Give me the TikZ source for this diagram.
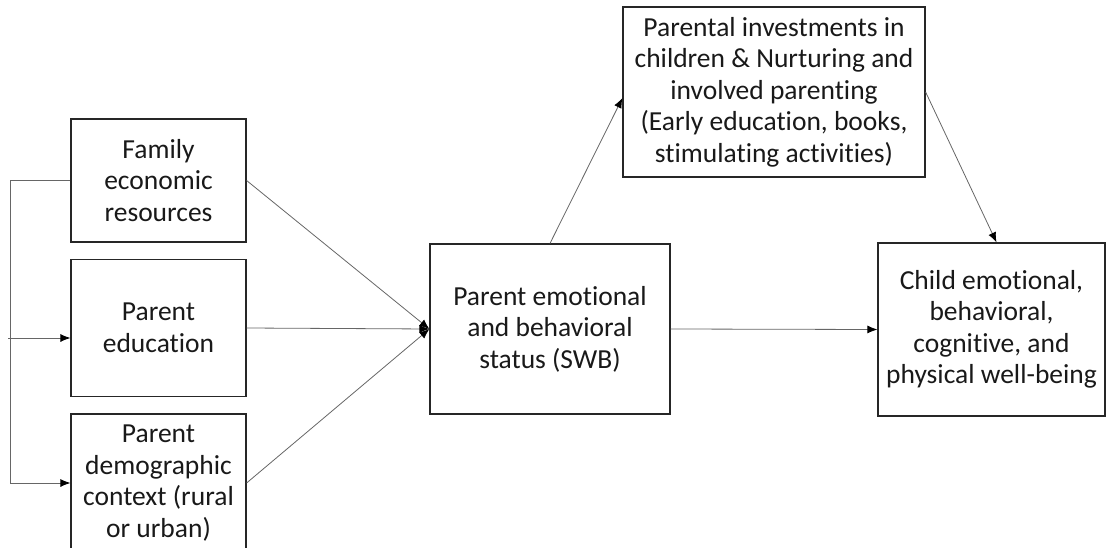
\documentclass[tikz,border=0pt]{standalone}
\usepackage{fontspec}
\setmainfont[Ligatures=NoCommon]{Carlito}
\usetikzlibrary{arrows.meta}
\begin{document}
\begin{tikzpicture}[x=1pt,y=1pt,
  box/.style={draw=black!85, line width=1.2pt, align=center, inner sep=0pt,
    font=\fontsize{27.5}{31.5}\selectfont, text=black!90},
  link/.style={draw=black!60, line width=0.8pt,
    -{Latex[length=10pt,width=8pt,color=black]}},
  plain/.style={draw=black!60, line width=0.8pt}]
\useasboundingbox (0,0) rectangle (1106,-548);
% left column
\node[box, minimum width=175, minimum height=123] (fam) at (158.5,-180.5)
  {Family\\economic\\resources};
\node[box, minimum width=175, minimum height=137] (edu) at (158.5,-328)
  {Parent\\education};
\node[box, minimum width=175, minimum height=138] (dem) at (158.5,-483)
  {Parent\\demographic\\context (rural\\or urban)};
% centre and right
\node[box, minimum width=240, minimum height=170] (swb) at (550,-329)
  {Parent emotional\\and behavioral\\status (SWB)};
\node[box, minimum width=302, minimum height=170] (inv) at (774,-92)
  {Parental investments in\\children \& Nurturing and\\involved parenting\\(Early education, books,\\stimulating activities)};
\node[box, minimum width=227, minimum height=173] (child) at (991.5,-329.5)
  {Child emotional,\\behavioral,\\cognitive, and\\physical well-being};
% bracket on the left
\coordinate (bt) at (10,-180.5);
\coordinate (bb) at (10,-483);
\coordinate (bm) at (8,-338);
\draw[plain] (fam.west) -- (bt) -- (bb);
\draw[link] (bm) -- (bm -| edu.west);
\draw[link] (bb) -- (dem.west);
% into the centre box
\draw[link] (fam.east) -- (swb.west);
\draw[link] (edu.east) -- (swb.west);
\draw[link] (dem.east) -- (swb.west);
% onwards
\draw[link] (swb.north) -- ([yshift=-6]inv.west);
\draw[link] (inv.east) -- ([xshift=5]child.north);
\draw[link] (swb.east) -- (child.west);
\end{tikzpicture}
\end{document}
